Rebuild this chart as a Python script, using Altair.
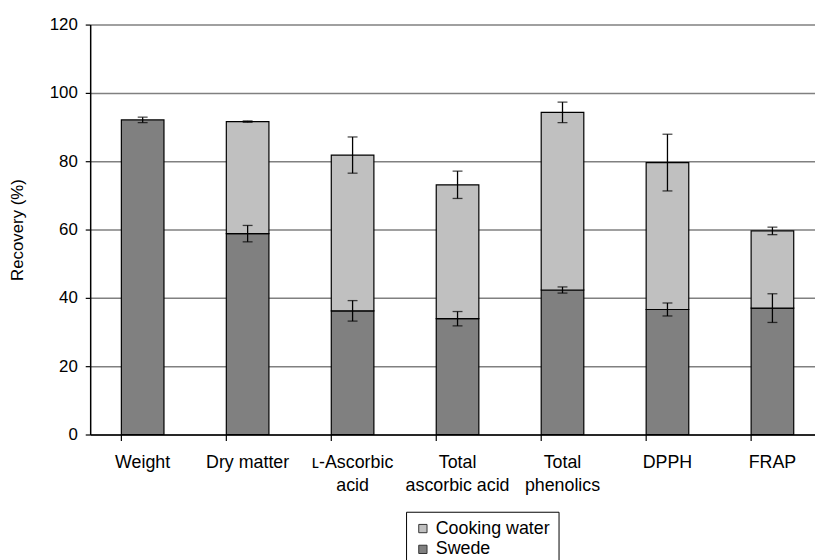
import altair as alt
import pandas as pd

categories = ["Weight", "Dry matter", "ʟ-Ascorbic|acid", "Total|ascorbic acid",
              "Total|phenolics", "DPPH", "FRAP"]
swede = [92.1, 58.8, 36.2, 33.9, 42.3, 36.6, 37.0]
swede_err = [0.8, 2.4, 3.0, 2.1, 0.9, 1.9, 4.2]
cooking = [0.0, 32.8, 45.6, 39.2, 52.0, 43.0, 22.6]
total_err = [None, 0.2, 5.3, 4.0, 3.0, 8.3, 1.1]
series = ["Cooking water", "Swede"]
colors = ["#c0c0c0", "#808080"]

bar_rows = []
err_rows = []
for c, s, se, w, te in zip(categories, swede, swede_err, cooking, total_err):
    bar_rows.append({"cat": c, "series": "Swede", "start": 0.0, "end": s})
    err_rows.append({"cat": c, "lo": s - se, "hi": s + se})
    if w > 0:
        bar_rows.append({"cat": c, "series": "Cooking water", "start": s, "end": s + w})
    if te is not None:
        err_rows.append({"cat": c, "lo": s + w - te, "hi": s + w + te})
bars_df = pd.DataFrame(bar_rows)
err_df = pd.DataFrame(err_rows)

x_enc = alt.X(
    "cat:N",
    sort=categories,
    title=None,
    scale=alt.Scale(domain=categories, range=[0, 742], paddingInner=0.594, paddingOuter=0.297),
    axis=alt.Axis(
        labelAngle=0,
        labelExpr="split(datum.label, '|')",
        labelFontSize=18,
        labelColor="black",
        labelBaseline="top",
        labelLineHeight=24,
        labelPadding=13,
        bandPosition=0,
        tickSize=6,
        tickColor="black",
        tickWidth=1.2,
        domainColor="black",
        domainWidth=1.5,
        grid=False,
        labelOverlap=False,
    ),
)

y_scale = alt.Scale(domain=[0, 120], nice=False)

bars = alt.Chart(bars_df).mark_bar(stroke="black", strokeWidth=1.2).encode(
    x=x_enc,
    y=alt.Y(
        "start:Q",
        scale=y_scale,
        title="Recovery (%)",
        axis=alt.Axis(
            values=[0, 20, 40, 60, 80, 100, 120],
            labelFontSize=17,
            labelColor="black",
            labelPadding=8,
            tickSize=5,
            tickColor="black",
            tickWidth=1.2,
            domainColor="black",
            domainWidth=1.5,
            gridColor="#808080",
            gridWidth=1.5,
            titleFontSize=17,
            titleFontWeight="normal",
            titleColor="black",
            titleX=-73,
            titleY=207,
            titleAngle=270,
            titleAlign="center",
            titleBaseline="middle",
        ),
    ),
    y2="end:Q",
    color=alt.Color(
        "series:N",
        scale=alt.Scale(domain=series, range=colors),
        legend=alt.Legend(
            title=None,
            orient="none",
            legendX=319,
            legendY=492,
            strokeColor="black",
            padding=8,
            symbolType="square",
            symbolSize=70,
            symbolStrokeColor="#333333",
            symbolStrokeWidth=1,
            labelFontSize=18,
            labelColor="black",
            rowPadding=3,
        ),
    ),
)

rules = alt.Chart(err_df).mark_rule(color="black", strokeWidth=1.3).encode(
    x=alt.X("cat:N", sort=categories),
    y=alt.Y("lo:Q", scale=y_scale),
    y2="hi:Q",
)
caps_lo = alt.Chart(err_df).mark_tick(color="black", size=10, thickness=1.3).encode(
    x=alt.X("cat:N", sort=categories),
    y=alt.Y("lo:Q", scale=y_scale),
)
caps_hi = alt.Chart(err_df).mark_tick(color="black", size=10, thickness=1.3).encode(
    x=alt.X("cat:N", sort=categories),
    y=alt.Y("hi:Q", scale=y_scale),
)

chart = (
    alt.layer(bars, rules, caps_lo, caps_hi)
    .properties(
        width=732,
        height=414,
        autosize=alt.AutoSizeParams(type="none"),
        padding={"left": 83, "top": 14, "right": 0, "bottom": 124},
    )
    .configure(font="Liberation Sans")
    .configure_view(stroke=None)
)

chart.save("out.html", embed_options={"renderer": "svg", "actions": False})
